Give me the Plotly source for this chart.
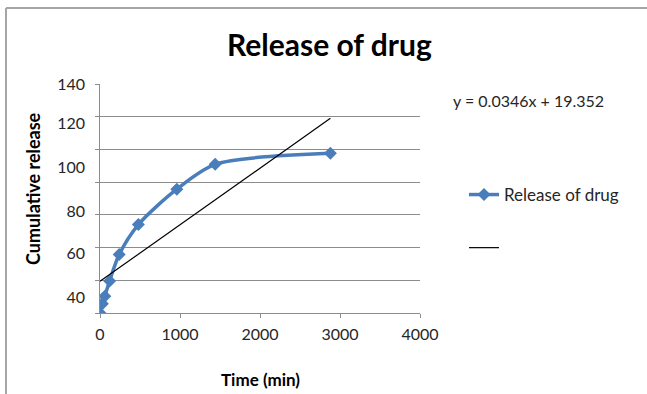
import plotly.graph_objects as go

# ---- data ----
time_min = [0, 30, 60, 120, 240, 480, 960, 1440, 2880]
cumulative_release = [0, 5.7, 10.2, 19.6, 35.8, 54.1, 75.7, 90.9, 97.6]
series_name = "Release of drug"
trend_slope = 0.0346
trend_intercept = 19.352
trend_x = [0, 2880]
x_ticks = [0, 1000, 2000, 3000, 4000]
y_tick_text = ["40", "60", "80", "100", "120", "140"]

# label positions as they appear on the picture (value units)
y_label_pos = [9.4, 36.4, 62.3, 89, 116, 139.6]

trend_y = [trend_slope * x + trend_intercept for x in trend_x]

W, H = 647, 394
L, R, T, B = 100, 227, 84, 81
pw, ph = W - L - R, H - T - B


def px(xp):
    return (xp - L) / pw


def py(yp):
    return (H - B - yp) / ph


FONT = "Lato, 'Open Sans', sans-serif"
BLUE = "#4A7EBB"
GRID = "#8C8C8C"
TXT = "#262626"

fig = go.Figure()
fig.add_trace(go.Scatter(
    x=time_min, y=cumulative_release, name=series_name, mode="lines+markers",
    line=dict(color=BLUE, width=3.5, shape="spline", smoothing=0.8),
    marker=dict(symbol="diamond", size=10, color=BLUE),
    legendgroup="a",
))
fig.add_trace(go.Scatter(
    x=trend_x, y=trend_y, name=" ", mode="lines",
    line=dict(color="black", width=1.2),
    legendgroup="b",
))
# invisible trace carrying the label axis
fig.add_trace(go.Scatter(x=[0], y=[0], yaxis="y2", mode="markers",
                         marker=dict(opacity=0), showlegend=False, hoverinfo="skip"))

fig.update_layout(
    width=W, height=H,
    margin=dict(l=L, r=R, t=T, b=B),
    paper_bgcolor="white", plot_bgcolor="white",
    font=dict(family=FONT, color=TXT, size=16),
    showlegend=True,
    legend=dict(x=px(464), y=py(177), xanchor="left", yanchor="top",
                font=dict(size=17, family=FONT, color=TXT),
                tracegroupgap=28, bgcolor="rgba(0,0,0,0)"),
    xaxis=dict(range=[0, 4000], tickvals=x_ticks, showgrid=False,
               showline=True, linecolor=GRID, linewidth=1,
               ticks="outside", ticklen=4, tickcolor=GRID,
               tickfont=dict(size=16, family=FONT, color=TXT),
               ticklabelstandoff=3, zeroline=False),
    yaxis=dict(range=[0, 140], dtick=20, showgrid=True, gridcolor=GRID, gridwidth=1,
               showline=True, linecolor=GRID, linewidth=1,
               ticks="outside", ticklen=4, tickcolor=GRID,
               showticklabels=False, zeroline=False),
    yaxis2=dict(range=[0, 140], overlaying="y", side="left", showgrid=False,
                tickvals=y_label_pos, ticktext=y_tick_text, ticks="",
                tickfont=dict(size=16, family=FONT, color=TXT),
                ticklabelstandoff=14, showline=False, zeroline=False),
)

annotations = [
    dict(text="<b>Release of drug</b>", x=px(329), y=py(44), xref="paper", yref="paper",
         showarrow=False, font=dict(size=30, family=FONT, color="black"),
         xanchor="center", yanchor="middle"),
    dict(text="<b>Cumulative release</b>", x=px(33), y=py(189), xref="paper", yref="paper",
         showarrow=False, textangle=-90, font=dict(size=18, family=FONT, color="black"),
         xanchor="center", yanchor="middle"),
    dict(text="<b>Time (min)</b>", x=px(260), y=py(379), xref="paper", yref="paper",
         showarrow=False, font=dict(size=17, family=FONT, color="black"),
         xanchor="center", yanchor="middle"),
    dict(text=f"y = {trend_slope}x + {trend_intercept}", x=px(451), y=py(100),
         xref="paper", yref="paper", showarrow=False,
         font=dict(size=16, family=FONT, color=TXT),
         xanchor="left", yanchor="middle"),
]
fig.update_layout(annotations=annotations)

BORDER = "#A6A6A6"
fig.add_shape(type="line", xref="paper", yref="paper", x0=px(6), x1=px(660),
              y0=py(8), y1=py(8), line=dict(color=BORDER, width=2))
fig.add_shape(type="line", xref="paper", yref="paper", x0=px(6), x1=px(6),
              y0=py(8), y1=py(400), line=dict(color=BORDER, width=2))

fig.write_html("out.html")
